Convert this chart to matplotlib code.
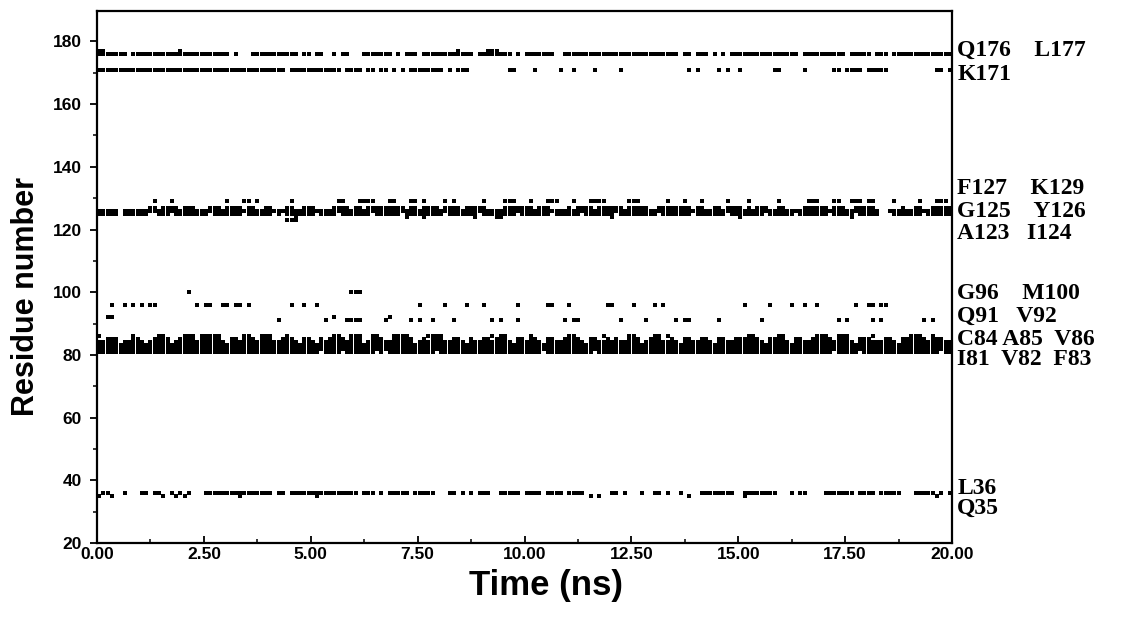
import numpy as np
import matplotlib
matplotlib.use("Agg")
import matplotlib.pyplot as plt
from matplotlib.ticker import MultipleLocator, FormatStrFormatter
import matplotlib.transforms as mtransforms

# ---- data: frames (0.1 ns each, 200 frames = 20 ns) where each residue is in contact ----
FRAME_NS = 0.1
N_FRAMES = 200

L177 = "0-1 19 84 91-93"
Q176 = ("0-6 8-30 32 36-46 48-49 51-52 55 57-58 62-68 70 72-74 76-87 89-96 98 100-106 "
        "109-135 137-138 140-142 144 146 148-163 165-174 176-180 182-184 186-199")
K171 = ("0-43 45-56 58-61 63-64 66-67 69 71 73-80 82 84-86 96-97 102 108 111 116 122 "
        "138 140 145 147 150 158-159 165 172-173 175-178 180-184 196-197 199")

K129 = ("13 17 30 34-35 37 45 56-57 61-64 68-69 73-74 76 81 83 90 95-97 101 105-107 111 "
        "115-118 124-126 133 137 141 147 152 159 166-168 172-173 176-178 180-181 186 192 196-198")
F127 = ("12-13 15-18 20-22 26-28 30-33 35-36 39-40 44-45 48-50 55-58 60-61 63-71 73-74 "
        "76-79 81-84 86-90 95-101 103-105 110 112-115 117-122 124-128 131-138 140-141 "
        "144-145 147-150 152 154-156 159-160 165-170 172-174 177-181 188 191-192 195-199")
Y126 = "0-4 6-182 185-199"
G125 = ("0-4 6-11 14-16 18-25 27-33 35-40 42 44-50 52-55 57-63 65-70 72-80 82-88 90-97 "
        "99-105 107-112 114-120 122-130 132-138 140-146 148-155 157-162 164-170 172-176 "
        "178-182 186-192 194-199")
I124 = "46 72 76 88 93-94 120 150 176"
A123 = "44-46"

M100 = "21 59-61"
G96 = ("3 6 8 10 12-13 23 25-26 29-30 32-33 35 45 48 51 75 81 86 90 98 105-106 110 "
       "119-120 125 130 132 151 157 162 165 168 177 180-181 183-184")
V92 = "2-3 55 68"
Q91 = ("42 53 58-61 67 73 75 78 83 92 94 98 109 111-112 122 128 135 137-138 145 155 "
       "173 175 181 183 193 195")

V86 = ("0 8 14-15 20-22 24-28 34-35 38-40 44 55-56 59-61 64-65 69-72 77-80 92 94-95 101 "
       "110-111 118 124-125 130-131 133 152-153 159-160 168-170 173-175 181 190-192 195")
A85 = ("2-4 8-9 13-16 19-22 24-28 31-32 34-36 38-40 43-45 48-49 52 54-57 59-61 64-66 "
       "69-73 76 78-80 83-84 87 90-91 93-95 98-99 101-102 105-106 109-112 115-116 119 121 "
       "124-126 129-131 134 137-138 141-142 145-146 149-154 157-160 163-164 167-171 "
       "173-175 178-180 184-185 188-193 195-197")
C84 = ("0-4 6-10 12-16 18-29 31-46 48-50 52-61 63-73 75-85 87-96 98-103 105-113 115-126 "
       "128-135 137-143 145-155 157-161 163-176 178-186 188-199")
F83 = "0-199"
V82 = "0-199"
I81 = "0-51 53-56 58-64 66 68-78 80-103 105-115 117-171 173-177 179-196 198-199"

L36 = ("1-2 6 10-11 13 14 17 19 21 25-40 42-43 45-60 62-64 66 68-72 74-78 82-83 85 87 "
       "89-91 94-98 100-103 105-108 110-113 120-121 123 127 130-131 133 136 141-148 "
       "151-158 162 164-165 170-176 178-181 183-187 191-195 197 199")
Q35 = "0 3 15 18 20 33 51 115 117 138 151 196"

residue_numbers = [177, 176, 171, 129, 127, 126, 125, 124, 123, 100, 96, 92, 91,
                   86, 85, 84, 83, 82, 81, 36, 35]
residue_contacts = [L177, Q176, K171, K129, F127, Y126, G125, I124, A123, M100, G96,
                    V92, Q91, V86, A85, C84, F83, V82, I81, L36, Q35]

side_labels = ["Q176    L177", "K171", "F127    K129", "G125    Y126", "A123   I124",
               "G96    M100", "Q91   V92", "C84 A85  V86", "I81  V82  F83", "L36", "Q35"]
side_label_y = [177.0, 169.6, 133.2, 125.6, 118.6, 99.6, 92.4, 84.8, 78.6, 37.5, 31.1]

x_ticks = [0, 2.5, 5, 7.5, 10, 12.5, 15, 17.5, 20]
y_ticks = [20, 40, 60, 80, 100, 120, 140, 160, 180]


def parse_frames(spec):
    out = []
    for tok in spec.split():
        if "-" in tok:
            a, b = tok.split("-")
            out.extend(range(int(a), int(b) + 1))
        else:
            out.append(int(tok))
    return np.array(sorted(set(out)))


# rectangular dot, slightly narrower than tall so neighbouring frames stay separated
dot = [(-0.395, -0.5), (0.395, -0.5), (0.395, 0.5), (-0.395, 0.5), (-0.395, -0.5)]

fig = plt.figure(figsize=(11.22, 6.21), dpi=100)
W, H = 1122, 621
ax = fig.add_axes([97 / W, (H - 543) / H, (952 - 97) / W, (543 - 11) / H])

for res, spec in zip(residue_numbers, residue_contacts):
    f = parse_frames(spec)
    t = (f + 0.5) * FRAME_NS
    ax.scatter(t, np.full(len(t), res), marker=dot, s=8.0, c="black",
               linewidths=0, clip_on=False, snap=True)

ax.set_xlim(0, 20)
ax.set_ylim(20, 189.7)
ax.set_xticks(x_ticks)
ax.set_yticks(y_ticks)
ax.xaxis.set_major_formatter(FormatStrFormatter("%.2f"))
ax.xaxis.set_minor_locator(MultipleLocator(1.25))
ax.yaxis.set_minor_locator(MultipleLocator(10))
ax.tick_params(axis="y", which="major", direction="out", length=5, width=1.3,
               labelsize=12.5, pad=6)
ax.tick_params(axis="y", which="minor", direction="out", length=3, width=1.1)
ax.tick_params(axis="x", which="major", direction="in", length=5, width=1.3,
               labelsize=12.5, pad=3)
ax.tick_params(axis="x", which="minor", direction="in", length=3, width=1.1)
for lab in ax.get_xticklabels() + ax.get_yticklabels():
    lab.set_fontfamily("Liberation Sans")
    lab.set_fontweight("bold")
for sp in ax.spines.values():
    sp.set_linewidth(1.6)

ax.set_xlabel("Time (ns)", fontsize=25, fontweight="bold",
              family="Liberation Sans")
ax.set_ylabel("Residue number", fontsize=22, fontweight="bold",
              family="Liberation Sans")
ax.xaxis.set_label_coords(0.525, -0.048)
ax.yaxis.set_label_coords(-0.066, 0.464)

trans = mtransforms.blended_transform_factory(ax.transAxes, ax.transData)
for txt, yy in zip(side_labels, side_label_y):
    ax.text(1.006, yy, txt, transform=trans, ha="left", va="center",
            fontsize=17, fontweight="bold", family="Liberation Serif")

fig.savefig("out.png", dpi=100)
